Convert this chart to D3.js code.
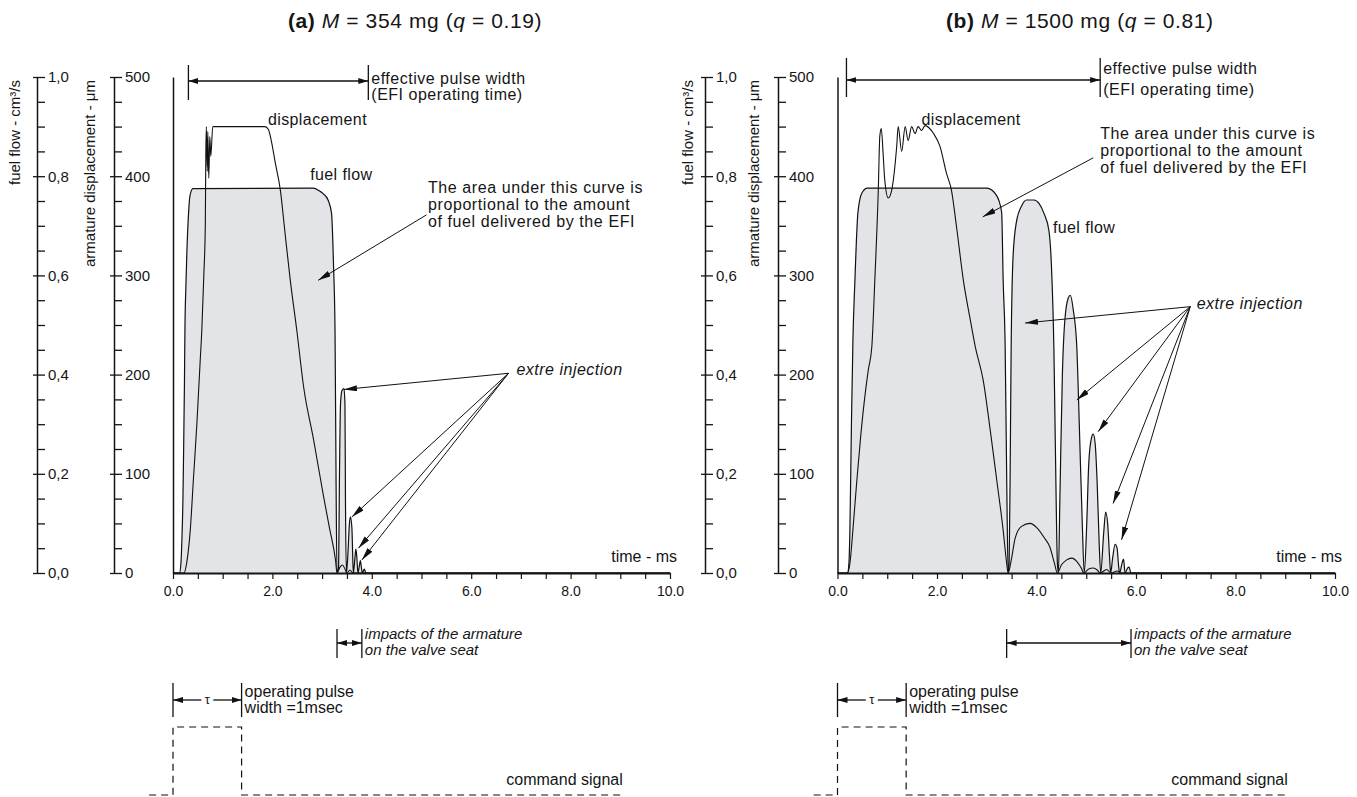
<!DOCTYPE html>
<html>
<head>
<meta charset="utf-8">
<script src="https://cdn.jsdelivr.net/npm/d3@7"></script>
<style>
  body { margin: 0; background: #fff; }
  svg text { font-family: "Liberation Sans", Arial, sans-serif; fill: #151515; }
  .axis path, .axis line { stroke: #151515; }
  .axis text { font-size: 15px; }
</style>
</head>
<body>
<svg id="chart" width="1357" height="797"></svg>
<script>
// values
// time in ms, fuel flow in cm3/s, armature displacement in micrometres
const fuelA = [[0,0],[0.13,0],[0.16,0.02],[0.18,0.07],[0.2,0.15],[0.21,0.22],[0.23,0.38],[0.24,0.49],[0.26,0.58],[0.28,0.65],[0.31,0.72],[0.34,0.76],[0.4,0.775],[2.82,0.776],[2.95,0.77],[3.02,0.765],[3.12,0.752],[3.19,0.725],[3.23,0.62],[3.26,0.49],[3.28,0.2],[3.3,0],[3.33,0.01],[3.35,0.2],[3.37,0.34],[3.4,0.368],[3.44,0.372],[3.46,0.34],[3.47,0.15],[3.49,0],[3.52,0.04],[3.55,0.1],[3.57,0.113],[3.6,0.09],[3.62,0.02],[3.63,0],[3.66,0.03],[3.68,0.048],[3.7,0.03],[3.72,0],[3.75,0.015],[3.77,0.025],[3.79,0.012],[3.81,0],[3.85,0.008],[3.88,0],[10,0]]
const dispA = [[0,0],[0.22,0],[0.275,10],[0.35,45],[0.41,94],[0.48,150],[0.545,212],[0.58,245],[0.62,300],[0.65,350],[0.66,420],[0.67,450],[0.69,405],[0.7,445],[0.72,398],[0.74,440],[0.76,420],[0.8,450],[1.85,450],[1.92,447],[1.96,440],[2.06,413],[2.16,386],[2.26,340],[2.36,295],[2.49,245],[2.63,187],[2.83,134],[3.03,77],[3.15,45],[3.27,13],[3.3,0],[3.36,6],[3.41,8],[3.46,4],[3.5,0],[3.56,3],[3.62,0],[10,0]]
const fuelB = [[0,0],[0.2,0],[0.23,0.02],[0.25,0.09],[0.28,0.3],[0.31,0.47],[0.35,0.59],[0.41,0.726],[0.49,0.766],[0.6,0.776],[3.0,0.776],[3.1,0.772],[3.17,0.765],[3.24,0.752],[3.3,0.726],[3.33,0.59],[3.37,0.456],[3.4,0.2],[3.43,0],[3.45,0.02],[3.47,0.2],[3.49,0.45],[3.53,0.64],[3.6,0.71],[3.7,0.74],[3.8,0.752],[3.95,0.752],[4.05,0.745],[4.15,0.725],[4.25,0.69],[4.3,0.62],[4.35,0.45],[4.38,0.25],[4.42,0.02],[4.44,0],[4.47,0.15],[4.52,0.4],[4.57,0.51],[4.64,0.555],[4.68,0.56],[4.74,0.53],[4.81,0.456],[4.86,0.3],[4.92,0.1],[4.96,0],[5.01,0.1],[5.05,0.22],[5.1,0.27],[5.14,0.28],[5.18,0.26],[5.22,0.18],[5.26,0.06],[5.29,0],[5.35,0.08],[5.39,0.123],[5.43,0.1],[5.47,0.03],[5.49,0],[5.53,0.03],[5.58,0.058],[5.62,0.05],[5.65,0.015],[5.67,0],[5.72,0.02],[5.75,0.028],[5.78,0],[5.83,0.01],[5.86,0.012],[5.9,0],[10,0]]
const dispB = [[0,0],[0.2,0],[0.25,10],[0.32,50],[0.39,94],[0.47,140],[0.55,178],[0.62,205],[0.69,228],[0.75,295],[0.82,386],[0.85,440],[0.88,448],[0.92,420],[0.95,396],[1.02,378],[1.09,386],[1.16,413],[1.19,430],[1.22,450],[1.29,425],[1.36,450],[1.42,436],[1.49,450],[1.56,443],[1.62,450],[1.69,446],[1.76,451],[1.93,443],[2.06,430],[2.19,403],[2.29,386],[2.4,346],[2.53,295],[2.67,255],[2.77,228],[2.93,194],[3.07,144],[3.2,94],[3.33,43],[3.4,10],[3.43,0],[3.5,15],[3.57,35],[3.7,47],[3.87,50],[4.0,46],[4.15,36],[4.27,26],[4.36,10],[4.42,0],[4.5,8],[4.6,13],[4.71,15],[4.82,11],[4.9,5],[4.95,0],[5.05,4],[5.14,5],[5.22,3],[5.28,0],[5.41,3.5],[5.5,0],[5.62,2],[5.7,0],[10,0]]

// command signal: [time, on/off]
const commandA = [[-0.48,0],[0,0],[0,1],[1.38,1],[1.38,0],[9.05,0]]
const commandB = [[-0.48,0],[0,0],[0,1],[1.38,1],[1.38,0],[9.05,0]]

const panelIds = ['(a)', '(b)']
const masses = [354, 1500]
const qValues = ['0.19', '0.81']
const effPulse = [[0.31, 3.93], [0.18, 5.28]]
const impactSpan = [[3.3, 3.8], [3.4, 5.9]]
const tauSpan = [[0, 1.38], [0, 1.38]]
// extra-injection arrow tips [time, fuel flow]
const extraTipsA = [[3.44,0.37],[3.6,0.113],[3.73,0.05],[3.8,0.026]]
const extraTipsB = [[3.77,0.504],[4.81,0.349],[5.24,0.285],[5.54,0.14],[5.71,0.067]]

const timeTicks = d3.range(0, 10.001, 0.5)
const fuelTicks = d3.range(0, 1.0001, 0.05)
const dispTicks = d3.range(0, 501, 25)
const areaText = ['The area under this curve is', 'proportional to the amount', 'of fuel delivered by the EFI']

// page layout
const layouts = [
  {x0: 173, x1: 670, fuelAxis: 37, dispAxis: 114, fuelLab: 20, dispLab: 95,
   effY: [65, 100], effArrow: 81, effText: [84, 100],
   dispText: [1.91, 125], flowText: [2.76, 180],
   areaX: 5.13, areaY: [193, 210, 227], areaFrom: [5.1, 0.722], areaTo: [2.92, 0.59],
   extraText: [6.91, 375], extraFrom: [6.75, 0.4026], extraTips: extraTipsA, fuel: fuelA, disp: dispA, command: commandA},
  {x0: 837.5, x1: 1335, fuelAxis: 705, dispAxis: 778, fuelLab: 693, dispLab: 759,
   effY: [58, 97], effArrow: 80, effText: [74, 95],
   dispText: [1.69, 125], flowText: [4.33, 233],
   areaX: 5.28, areaY: [139, 156, 173], areaFrom: [5.14, 0.837], areaTo: [2.92, 0.718],
   extraText: [7.22, 309], extraFrom: [7.09, 0.537], extraTips: extraTipsB, fuel: fuelB, disp: dispB, command: commandB}
]

const svg = d3.select('#chart')
const defs = svg.append('defs')
defs.append('marker')
  .attr('id', 'head').attr('viewBox', '0 0 13 6').attr('refX', 13).attr('refY', 3)
  .attr('markerWidth', 13).attr('markerHeight', 6).attr('markerUnits', 'userSpaceOnUse')
  .attr('orient', 'auto-start-reverse')
  .append('path').attr('d', 'M0,0L13,3L0,6Z').attr('fill', '#111')
defs.append('marker')
  .attr('id', 'dim').attr('viewBox', '0 0 10 6').attr('refX', 10).attr('refY', 3)
  .attr('markerWidth', 10).attr('markerHeight', 6).attr('markerUnits', 'userSpaceOnUse')
  .attr('orient', 'auto-start-reverse')
  .append('path').attr('d', 'M0,0L10,3L0,6Z').attr('fill', '#111')

const yF = d3.scaleLinear().domain([0, 1]).range([573, 77])
const yD = d3.scaleLinear().domain([0, 500]).range([573, 77])
const yC = d3.scaleLinear().domain([0, 1]).range([795, 727])

const isMajor = (d, step) => Math.abs(d / step - Math.round(d / step)) < 1e-6

layouts.forEach((L, i) => {
  const x = d3.scaleLinear().domain([0, 10]).range([L.x0, L.x1])
  const g = svg.append('g')

  // title
  const title = g.append('text')
    .attr('x', x(4.87)).attr('y', 28)
    .attr('text-anchor', 'middle')
    .style('font-size', '21px').style('letter-spacing', '0.6px')
  title.append('tspan').style('font-weight', 'bold').text(panelIds[i] + ' ')
  title.append('tspan').style('font-style', 'italic').text('M')
  title.append('tspan').text(` = ${masses[i]} mg (`)
  title.append('tspan').style('font-style', 'italic').text('q')
  title.append('tspan').text(` = ${qValues[i]})`)

  // fuel flow axis
  const fa = g.append('g').attr('class', 'axis')
    .attr('transform', `translate(${L.fuelAxis},0)`)
    .call(d3.axisRight(yF).tickValues(fuelTicks).tickSize(8).tickSizeOuter(0).tickPadding(3)
      .tickFormat(d => isMajor(d, 0.2) ? d.toFixed(1).replace('.', ',') : ''))
  fa.select('.domain').attr('stroke-width', 1.5)
  fa.selectAll('.tick line').attr('x1', d => isMajor(d, 0.2) ? -4 : 0).attr('stroke-width', 1.3)

  // displacement axis
  const da = g.append('g').attr('class', 'axis')
    .attr('transform', `translate(${L.dispAxis},0)`)
    .call(d3.axisRight(yD).tickValues(dispTicks).tickSize(8).tickSizeOuter(0).tickPadding(3)
      .tickFormat(d => isMajor(d, 100) ? d : ''))
  da.select('.domain').attr('stroke-width', 1.5)
  da.selectAll('.tick line').attr('x1', d => isMajor(d, 100) ? -4 : 0).attr('stroke-width', 1.3)

  g.append('text')
    .attr('transform', `translate(${L.fuelLab},80) rotate(-90)`)
    .attr('text-anchor', 'end').style('font-size', '15px')
    .text('fuel flow - cm³/s')
  g.append('text')
    .attr('transform', `translate(${L.dispLab},80) rotate(-90)`)
    .attr('text-anchor', 'end').style('font-size', '15px')
    .text('armature displacement - μm')

  // plot frame: left edge and time axis
  g.append('g').attr('class', 'axis')
    .attr('transform', `translate(${L.x0},0)`)
    .call(d3.axisLeft(yF).tickValues([]).tickSizeOuter(0))
    .select('.domain').attr('stroke-width', 1.5)

  // fuel flow area and curves
  const area = d3.area().x(d => x(d[0])).y0(yF(0)).y1(d => yF(d[1])).curve(d3.curveMonotoneX)
  const fuelLine = d3.line().x(d => x(d[0])).y(d => yF(d[1])).curve(d3.curveMonotoneX)
  const dispLine = d3.line().x(d => x(d[0])).y(d => yD(d[1])).curve(d3.curveMonotoneX)

  g.append('path').datum(L.fuel).attr('d', area).attr('fill', '#e3e4e7')
  g.append('path').datum(L.disp).attr('d', dispLine)
    .attr('fill', 'none').attr('stroke', '#111').attr('stroke-width', 1.1)
  g.append('path').datum(L.fuel).attr('d', fuelLine)
    .attr('fill', 'none').attr('stroke', '#111').attr('stroke-width', 1.2)

  const xa = g.append('g').attr('class', 'axis')
    .attr('transform', `translate(0,${yF(0)})`)
    .call(d3.axisBottom(x).tickValues(timeTicks).tickSize(6).tickSizeOuter(0).tickPadding(7)
      .tickFormat(d => isMajor(d, 2) ? d.toFixed(1) : ''))
  xa.select('.domain').attr('stroke-width', 2)
  xa.selectAll('.tick line').attr('stroke-width', 1.2)
  xa.selectAll('.tick text').style('font-size', '14px')

  g.append('text').attr('x', x(10) + 7).attr('y', 562)
    .attr('text-anchor', 'end').style('font-size', '16px').text('time - ms')

  // effective pulse width
  const eff = effPulse[i]
  eff.forEach(t => g.append('line')
    .attr('x1', x(t)).attr('x2', x(t)).attr('y1', L.effY[0]).attr('y2', L.effY[1])
    .attr('stroke', '#111').attr('stroke-width', 1.3))
  g.append('line')
    .attr('x1', x(eff[0])).attr('x2', x(eff[1])).attr('y1', L.effArrow).attr('y2', L.effArrow)
    .attr('stroke', '#111').attr('stroke-width', 1.3)
    .attr('marker-start', 'url(#dim)').attr('marker-end', 'url(#dim)')
  g.append('text').attr('x', x(eff[1]) + 3).attr('y', L.effText[0])
    .style('font-size', '16px').style('letter-spacing', '0.5px').text('effective pulse width')
  g.append('text').attr('x', x(eff[1]) + 3).attr('y', L.effText[1])
    .style('font-size', '16px').style('letter-spacing', '0.5px').text('(EFI operating time)')

  // curve labels
  g.append('text').attr('x', x(L.dispText[0])).attr('y', L.dispText[1])
    .style('font-size', '16px').style('letter-spacing', '0.4px').text('displacement')
  g.append('text').attr('x', x(L.flowText[0])).attr('y', L.flowText[1])
    .style('font-size', '16px').style('letter-spacing', '0.4px').text('fuel flow')

  areaText.forEach((s, k) => g.append('text')
    .attr('x', x(L.areaX)).attr('y', L.areaY[k])
    .style('font-size', '16px').style('letter-spacing', '0.6px').text(s))
  g.append('line')
    .attr('x1', x(L.areaFrom[0])).attr('y1', yF(L.areaFrom[1]))
    .attr('x2', x(L.areaTo[0])).attr('y2', yF(L.areaTo[1]))
    .attr('stroke', '#111').attr('stroke-width', 1).attr('marker-end', 'url(#head)')

  // extra injection
  g.append('text').attr('x', x(L.extraText[0])).attr('y', L.extraText[1])
    .style('font-size', '16px').style('font-style', 'italic').style('letter-spacing', '0.5px')
    .text('extre injection')
  g.selectAll('.extra').data(L.extraTips).join('line')
    .attr('class', 'extra')
    .attr('x1', x(L.extraFrom[0])).attr('y1', yF(L.extraFrom[1]))
    .attr('x2', d => x(d[0])).attr('y2', d => yF(d[1]))
    .attr('stroke', '#111').attr('stroke-width', 1).attr('marker-end', 'url(#head)')

  // impacts of the armature
  const imp = impactSpan[i]
  imp.forEach(t => g.append('line')
    .attr('x1', x(t)).attr('x2', x(t)).attr('y1', 629).attr('y2', 658)
    .attr('stroke', '#111').attr('stroke-width', 1.3))
  g.append('line')
    .attr('x1', x(imp[0])).attr('x2', x(imp[1])).attr('y1', 643).attr('y2', 643)
    .attr('stroke', '#111').attr('stroke-width', 1.3)
    .attr('marker-start', 'url(#dim)').attr('marker-end', 'url(#dim)')
  g.append('text').attr('x', x(imp[1]) + 3).attr('y', 639)
    .style('font-size', '15px').style('font-style', 'italic').text('impacts of the armature')
  g.append('text').attr('x', x(imp[1]) + 3).attr('y', 655)
    .style('font-size', '15px').style('font-style', 'italic').text('on the valve seat')

  // operating pulse width (tau)
  const tau = tauSpan[i]
  const mid = (x(tau[0]) + x(tau[1])) / 2
  tau.forEach(t => g.append('line')
    .attr('x1', x(t)).attr('x2', x(t)).attr('y1', 683).attr('y2', 717)
    .attr('stroke', '#111').attr('stroke-width', 1.3))
  g.append('line').attr('x1', mid - 6).attr('x2', x(tau[0])).attr('y1', 700).attr('y2', 700)
    .attr('stroke', '#111').attr('stroke-width', 1.3).attr('marker-end', 'url(#dim)')
  g.append('line').attr('x1', mid + 6).attr('x2', x(tau[1])).attr('y1', 700).attr('y2', 700)
    .attr('stroke', '#111').attr('stroke-width', 1.3).attr('marker-end', 'url(#dim)')
  g.append('text').attr('x', mid).attr('y', 704).attr('text-anchor', 'middle')
    .style('font-size', '13px').text('τ')
  g.append('text').attr('x', x(tau[1]) + 3).attr('y', 697)
    .style('font-size', '16px').text('operating pulse')
  g.append('text').attr('x', x(tau[1]) + 3).attr('y', 713)
    .style('font-size', '16px').text('width =1msec')

  // command signal
  const cmdLine = d3.line().x(d => x(d[0])).y(d => yC(d[1]))
  g.append('path').datum(L.command).attr('d', cmdLine)
    .attr('fill', 'none').attr('stroke', '#111').attr('stroke-width', 1.2)
    .attr('stroke-dasharray', '7,5')
  g.append('text').attr('x', x(9.05)).attr('y', 785).attr('text-anchor', 'end')
    .style('font-size', '16px').text('command signal')
})
</script>
</body>
</html>
